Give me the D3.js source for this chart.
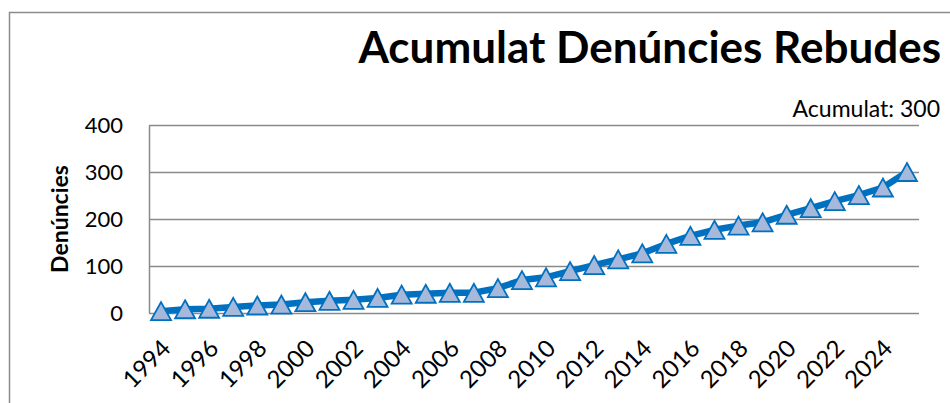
<!DOCTYPE html>
<html>
<head>
<meta charset="utf-8">
<script src="https://cdn.jsdelivr.net/npm/d3@7"></script>
<style>
  body { margin: 0; background: #ffffff; }
  svg text { font-family: Lato, "Open Sans", sans-serif; fill: #000; }
</style>
</head>
<body>
<div id="chart"></div>
<script>
// ===== DATA =====
var years = [1994, 1995, 1996, 1997, 1998, 1999, 2000, 2001, 2002, 2003,
             2004, 2005, 2006, 2007, 2008, 2009, 2010, 2011, 2012, 2013,
             2014, 2015, 2016, 2017, 2018, 2019, 2020, 2021, 2022, 2023,
             2024, 2025];
var denuncies = [4, 8, 9, 13, 16, 18, 23, 26, 28, 32,
                 39, 41, 43, 43, 53, 70, 76, 89, 102, 114,
                 127, 147, 164, 177, 186, 193, 209, 223, 238, 251,
                 267, 300];
var yTicks = [0, 100, 200, 300, 400];
var xTickYears = [1994, 1996, 1998, 2000, 2002, 2004, 2006, 2008,
                  2010, 2012, 2014, 2016, 2018, 2020, 2022, 2024];
var chartTitle = "Acumulat Denúncies Rebudes";
var yAxisTitle = "Denúncies";
var totalPrefix = "Acumulat: ";

// ===== ACUMULAT DENUNCIES (LINE) =====
function acumulat_line()
{
  var w = 950;
  var h = 403;
  var plot = {left: 149, right: 919, top: 125, bottom: 313};

  var svg = d3.select("#chart")
              .append("svg")
              .attr("width", w)
              .attr("height", h);

  // chart frame (only top and left edges are visible in the picture)
  svg.append("path")
     .attr("d", "M9.5," + h + "V12.5H" + w)
     .attr("fill", "none")
     .attr("stroke", "#8c8c8c")
     .attr("stroke-width", 1.5);

  var x = d3.scaleBand()
            .domain(years)
            .range([plot.left, plot.right]);

  var y = d3.scaleLinear()
            .domain([0, 400])
            .range([plot.bottom, plot.top]);

  function cx(d) { return x(d) + x.bandwidth() / 2; }

  // y axis with gridlines
  var yAxis = svg.append("g")
                 .attr("transform", "translate(" + plot.left + ",0)")
                 .call(d3.axisLeft(y)
                         .tickValues(yTicks)
                         .tickSizeInner(-(plot.right - plot.left))
                         .tickSizeOuter(0)
                         .tickPadding(26));
  yAxis.selectAll("line, path")
       .attr("stroke", "#8a8a8a")
       .attr("stroke-width", 1.5);
  yAxis.selectAll("text")
       .attr("font-size", "22px")
       .attr("font-family", "Lato, sans-serif");

  // x axis labels (rotated)
  var xAxis = svg.append("g")
                 .attr("transform", "translate(0," + plot.bottom + ")")
                 .call(d3.axisBottom(x).tickValues(xTickYears).tickSize(0));
  xAxis.select(".domain").remove();
  xAxis.selectAll("text")
       .attr("font-size", "24px")
       .attr("font-family", "Lato, sans-serif")
       .attr("text-anchor", "end")
       .attr("dy", null)
       .attr("y", 0)
       .attr("transform", "translate(11,37) rotate(-45)");

  // y axis title
  svg.append("text")
     .attr("transform", "translate(68," + ((plot.top + plot.bottom) / 2) + ") rotate(-90)")
     .attr("text-anchor", "middle")
     .attr("font-size", "23px")
     .attr("font-weight", "bold")
     .text(yAxisTitle);

  // chart title
  svg.append("text")
     .attr("x", 941)
     .attr("y", 63)
     .attr("text-anchor", "end")
     .attr("font-size", "44px")
     .attr("font-weight", "bold")
     .text(chartTitle);

  // total label
  svg.append("text")
     .attr("x", 940)
     .attr("y", 117)
     .attr("text-anchor", "end")
     .attr("font-size", "23px")
     .text(totalPrefix + denuncies[denuncies.length - 1]);

  var data = years.map(function(d, i) { return {year: d, value: denuncies[i]}; });

  var line = d3.line()
               .x(function(d) { return cx(d.year); })
               .y(function(d) { return y(d.value); });

  svg.append("path")
     .datum(data)
     .attr("d", line)
     .attr("fill", "none")
     .attr("stroke", "#0070c0")
     .attr("stroke-width", 6.5)
     .attr("stroke-linejoin", "round");

  // triangle markers, centred on their bounding box like the spreadsheet ones
  var tw = 20, th = 18;
  var triangle = "M0," + (-th / 2) + "L" + (tw / 2) + "," + (th / 2) + "L" + (-tw / 2) + "," + (th / 2) + "Z";

  svg.selectAll("path.marker")
     .data(data)
     .enter()
     .append("path")
     .attr("class", "marker")
     .attr("d", triangle)
     .attr("transform", function(d) {
       return "translate(" + cx(d.year) + "," + y(d.value) + ")";
     })
     .attr("fill", "#a7b9da")
     .attr("stroke", "#0070c0")
     .attr("stroke-width", 1.8)
     .attr("stroke-linejoin", "miter");
}

window.onload = acumulat_line;
</script>
</body>
</html>
